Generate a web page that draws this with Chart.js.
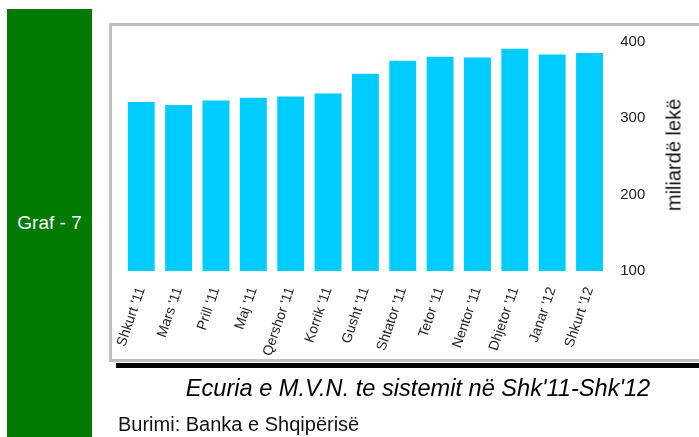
<!DOCTYPE html>
<html>
<head>
<meta charset="utf-8">
<script src="https://cdn.jsdelivr.net/npm/chart.js@4/dist/chart.umd.min.js"></script>
<style>
  html, body { margin: 0; padding: 0; background: #fff; }
  body { width: 699px; height: 437px; position: relative; overflow: hidden; font-family: "Liberation Sans", Arial, sans-serif; }
  #green { position: absolute; left: 7px; top: 9px; width: 85px; height: 428px; background: #007A00; }
  #graf { position: absolute; left: 7px; width: 85px; top: 211px; text-align: center; color: #fff; font-size: 19px; line-height: 24px; }
  #box { position: absolute; left: 109px; top: 23px; width: 620px; height: 333px; border: 3px solid #c0c0c0; box-sizing: content-box; }
  #shadow { position: absolute; left: 116px; top: 363px; width: 600px; height: 5px; background: #000; }
  #c { position: absolute; left: 0; top: 0; }
  #ytitle { position: absolute; left: 674px; top: 155px; transform: translate(-50%, -50%) rotate(-90deg); white-space: nowrap; font-size: 20px; color: #111; }
  #title { position: absolute; left: 80px; width: 676px; top: 374px; text-align: center; font-style: italic; font-size: 23.6px; line-height: 28px; color: #000; white-space: nowrap; }
  #source { position: absolute; left: 118px; top: 412px; font-size: 20px; line-height: 24px; color: #111; white-space: nowrap; }
</style>
</head>
<body>
<div id="green"></div>
<div id="graf">Graf - 7</div>
<div id="box"></div>
<div id="shadow"></div>
<canvas id="c" width="699" height="437"></canvas>
<div id="ytitle">miliardë lekë</div>
<div id="title">Ecuria e M.V.N. te sistemit në Shk'11-Shk'12</div>
<div id="source">Burimi: Banka e Shqipërisë</div>
<script>
const categories = ["Shkurt '11", "Mars '11", "Prill '11", "Maj '11", "Qershor '11", "Korrik '11", "Gusht '11", "Shtator '11", "Tetor '11", "Nentor '11", "Dhjetor '11", "Janar '12", "Shkurt '12"];
const mvnValues = [321, 317, 323, 326.5, 328, 332, 358, 375, 380, 379, 390.5, 383, 385];
const yTicks = [100, 200, 300, 400];

new Chart(document.getElementById('c'), {
  type: 'bar',
  data: {
    labels: categories,
    datasets: [{
      data: mvnValues,
      backgroundColor: '#00CCFF',
      borderWidth: 0,
      barPercentage: 0.9,
      categoryPercentage: 0.8
    }]
  },
  options: {
    responsive: false,
    animation: false,
    layout: { padding: { left: 122.6, right: 50.8, top: 41.5, bottom: 76 } },
    plugins: { legend: { display: false }, tooltip: { enabled: false } },
    scales: {
      x: {
        grid: { display: false, drawTicks: false },
        border: { display: false },
        ticks: {
          color: '#222',
          font: { family: 'Liberation Sans', size: 14 },
          minRotation: 71,
          maxRotation: 71,
          padding: 14,
          autoSkip: false
        },
        afterFit: (s) => { s.height = 90; }
      },
      y: {
        position: 'right',
        min: yTicks[0],
        max: yTicks[yTicks.length - 1],
        afterBuildTicks: (s) => { s.ticks = yTicks.map(v => ({ value: v })); },
        grid: { display: false, drawTicks: false },
        border: { display: false },
        ticks: {
          color: '#222',
          font: { family: 'Liberation Sans', size: 15 },
          padding: 12
        },
        afterFit: (s) => { s.width = 40; }
      }
    }
  }
});
</script>
</body>
</html>
